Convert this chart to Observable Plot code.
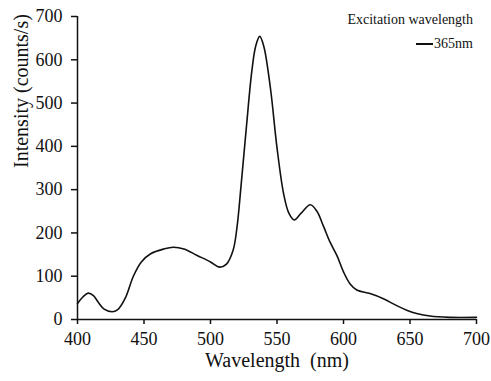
<!DOCTYPE html>
<html>
<head>
<meta charset="utf-8">
<script src="https://cdn.jsdelivr.net/npm/d3@7"></script>
<script src="https://cdn.jsdelivr.net/npm/@observablehq/plot@0.6"></script>
<style>
  html, body { margin: 0; padding: 0; background: #fff; }
  #wrap { position: relative; width: 491px; height: 381px; }
  #legend { position: absolute; right: 18px; top: 8px; font-family: "Liberation Serif", "Times New Roman", serif; font-size: 14px; color: #111; text-align: right; line-height: 24px; }
  #legend .sw { display: inline-block; width: 17px; border-top: 2px solid #111; vertical-align: middle; margin-right: 1px; position: relative; top: -1px; }
</style>
</head>
<body>
<div id="wrap"><div id="legend"><div>Excitation wavelength</div><div><span class="sw"></span>365nm</div></div></div>
<script>
const wavelengths = [400,404,408,412,416,420,426,430,436,442,448,455,465,472,480,490,500,507,512,517,520,523,527,531,534,537,540,545,550,555,559,563,568,575,580,585,590,595,600,605,610,620,630,640,648,655,665,680,700];
const intensities = [37,52,61,55,38,24,18,22,50,100,133,152,163,167,163,148,133,121,128,160,215,310,445,572,632,654,632,536,397,290,245,230,245,265,250,215,178,148,110,82,68,60,48,32,21,14,8,5,5];
const xTicks = [400,450,500,550,600,650,700];
const yTicks = [0,100,200,300,400,500,600,700];
const xTitle = "Wavelength\u00a0 (nm)";
const yTitle = "Intensity (counts/s)";

const data = wavelengths.map((w, i) => ({w, v: intensities[i]}));
const serif = "'Liberation Serif', 'Times New Roman', serif";

const chart = Plot.plot({
  width: 491,
  height: 381,
  marginLeft: 77,
  marginRight: 15,
  marginTop: 16,
  marginBottom: 62,
  style: {fontFamily: serif, fontSize: "17px", color: "#111", background: "#fff"},
  x: {domain: [400, 700]},
  y: {domain: [0, 700]},
  marks: [
    Plot.axisX({ticks: xTicks, tickSize: 5, tickPadding: 8, label: null, stroke: "#111", strokeWidth: 1.5, fill: "#111", fontSize: 18, fontFamily: serif, fontVariant: "normal"}),
    Plot.axisY({ticks: yTicks, tickSize: 6, tickPadding: 9, label: null, stroke: "#111", strokeWidth: 1.5, fill: "#111", fontSize: 18, fontFamily: serif, fontVariant: "normal"}),
    Plot.ruleY([0], {stroke: "#111", strokeWidth: 1.5}),
    Plot.ruleX([400], {stroke: "#111", strokeWidth: 1.5}),
    Plot.line(data, {x: "w", y: "v", curve: "catmull-rom", stroke: "#111", strokeWidth: 1.6}),
    Plot.text([xTitle], {frameAnchor: "bottom", dy: 47, lineAnchor: "bottom", fontSize: 20, fontFamily: serif, fill: "#111"}),
    Plot.text([yTitle], {frameAnchor: "left", dx: -56, rotate: -90, lineAnchor: "middle", fontSize: 20, fontFamily: serif, fill: "#111"})
  ]
});
document.getElementById("wrap").prepend(chart);
</script>
</body>
</html>
